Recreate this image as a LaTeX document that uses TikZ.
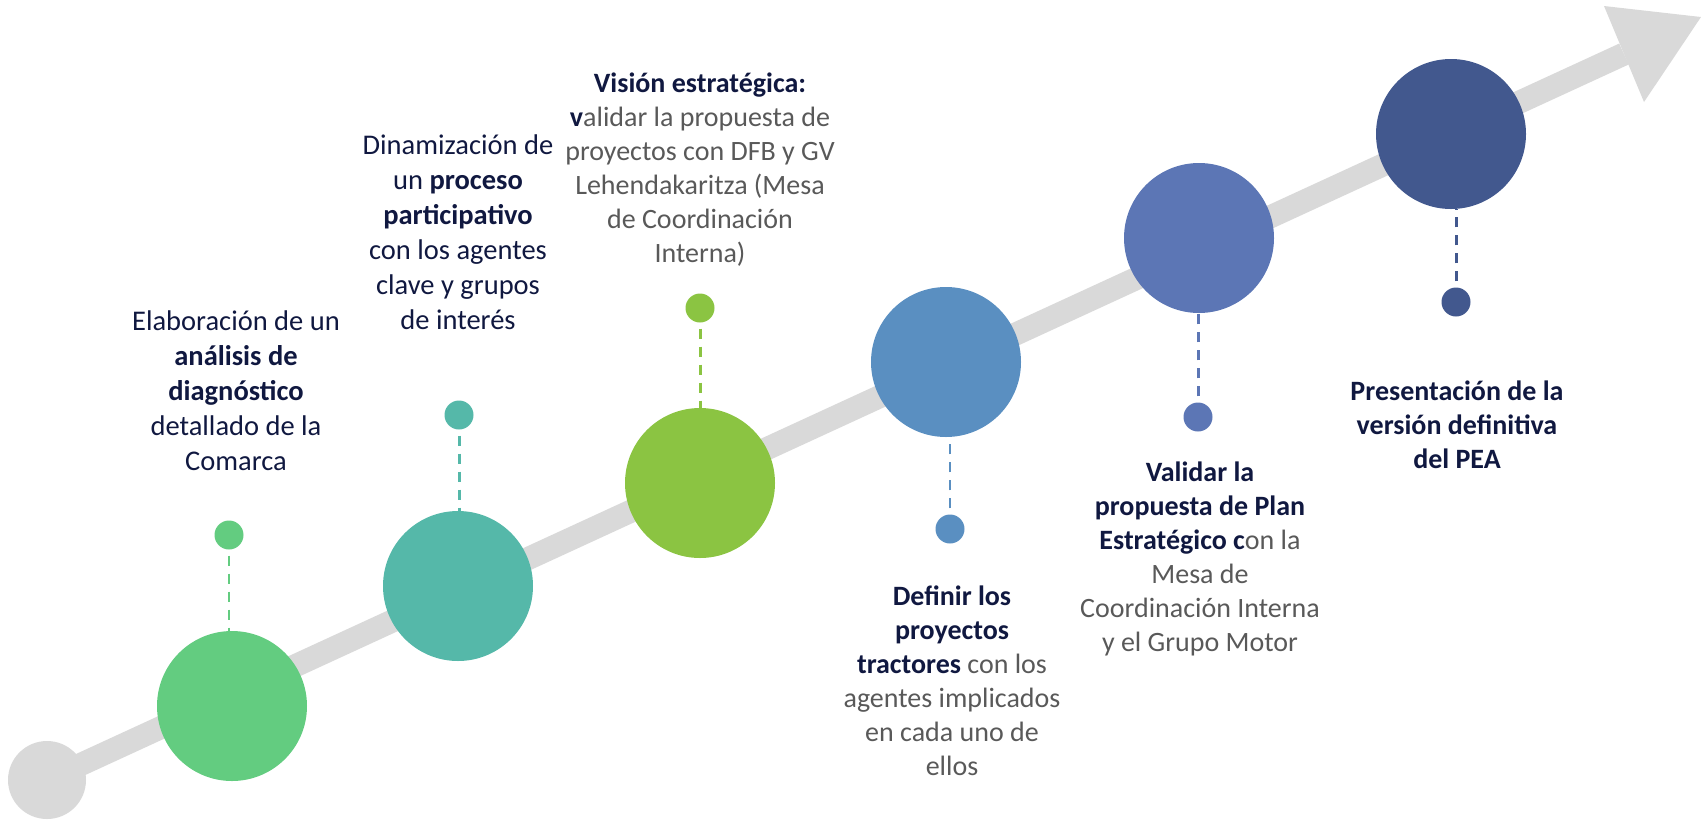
\documentclass[tikz,border=0pt]{standalone}
\usepackage{fontspec}
\setmainfont{Carlito}
\definecolor{track}{HTML}{D9D9D9}
\definecolor{ink}{HTML}{101840}
\definecolor{soft}{HTML}{595959}
\definecolor{cA}{HTML}{63CC80}
\definecolor{cB}{HTML}{55B8A9}
\definecolor{cC}{HTML}{8BC442}
\definecolor{cD}{HTML}{5A8FC1}
\definecolor{cE}{HTML}{5C76B5}
\definecolor{cF}{HTML}{42588E}
\newcommand{\gr}[1]{\textcolor{soft}{#1}}
\begin{document}
\begin{tikzpicture}[x=1pt,y=-1pt,
  big/.style={circle, minimum size=150pt, inner sep=0pt, draw=none},
  smalldot/.style={circle, minimum size=29pt, inner sep=0pt, draw=none},
  link/.style={dash pattern=on 10pt off 8pt, line width=3pt},
  lbl/.style={align=center, text=ink, inner sep=0pt, font=\fontsize{28}{34}\selectfont},
  lblwide/.style={lbl, font=\fontsize{28.5}{35}\selectfont}]
\useasboundingbox (0,0) rectangle (1701,823);
% track
\node[circle, minimum size=78pt, inner sep=0pt, fill=track] (start) at (47,780) {};
\coordinate (headbase) at (1624,54);
\draw[line width=23pt, track] (start.center) -- (headbase);
\fill[track] (1604,6) -- (1701,17) -- (1644,102) -- cycle;
% big circles
\node[big, fill=cA] (c1) at (232,706) {};
\node[big, fill=cB] (c2) at (458,586) {};
\node[big, fill=cC] (c3) at (700,483) {};
\node[big, fill=cD] (c4) at (946,362) {};
\node[big, fill=cE] (c5) at (1199,238) {};
\node[big, fill=cF] (c6) at (1451,134) {};
% small dots
\node[smalldot, fill=cA] (d1) at (229,535) {};
\node[smalldot, fill=cB] (d2) at (459,415) {};
\node[smalldot, fill=cC] (d3) at (700,308) {};
\node[smalldot, fill=cD] (d4) at (950,529) {};
\node[smalldot, fill=cE] (d5) at (1198,417) {};
\node[smalldot, fill=cF] (d6) at (1456,302) {};
% dashed links
\draw[link, cA, line width=2pt] (d1.south) ++(0,6) coordinate (l1) -- (l1 |- c1.north);
\draw[link, cB] (d2.south) ++(0,6) coordinate (l2) -- (l2 |- c2.north);
\draw[link, cC] (d3.south) ++(0,6) coordinate (l3) -- (l3 |- c3.north);
\draw[link, cD, line width=2pt] (d4.north) ++(0,-6) coordinate (l4) -- (l4 |- c4.south);
\draw[link, cE] (d5.north) ++(0,-6) coordinate (l5) -- (l5 |- c5.south);
\draw[link, cF] (d6.north) ++(0,-6) coordinate (l6) -- (l6 |- c6.south);
% labels
\node[lblwide] (t1) at (236,391) {Elaboración de un\\ \textbf{análisis de}\\ \textbf{diagnóstico}\\ detallado de la\\ Comarca};
\node[lblwide] (t2) at (458,232) {Dinamización de\\ un \textbf{proceso}\\ \textbf{participativo}\\ con los agentes\\ clave y grupos\\ de interés};
\node[lbl] (t3) at (700,170) {\textbf{Visión estratégica:}\\ \textbf{v}\gr{alidar la propuesta de}\\ \gr{proyectos con DFB y GV}\\ \gr{Lehendakaritza (Mesa}\\ \gr{de Coordinación}\\ \gr{Interna)}};
\node[lbl] (t4) at (952,681) {\textbf{Definir los}\\ \textbf{proyectos}\\ \textbf{tractores} \gr{con los}\\ \gr{agentes implicados}\\ \gr{en cada uno de}\\ \gr{ellos}};
\node[lbl] (t5) at (1200,559) {\textbf{Validar la}\\ \textbf{propuesta de Plan}\\ \textbf{Estratégico c}\gr{on la}\\ \gr{Mesa de}\\ \gr{Coordinación Interna}\\ \gr{y el Grupo Motor}};
\node[lbl] (t6) at (1457,425) {\textbf{Presentación de la}\\ \textbf{versión definitiva}\\ \textbf{del PEA}};
\end{tikzpicture}
\end{document}
